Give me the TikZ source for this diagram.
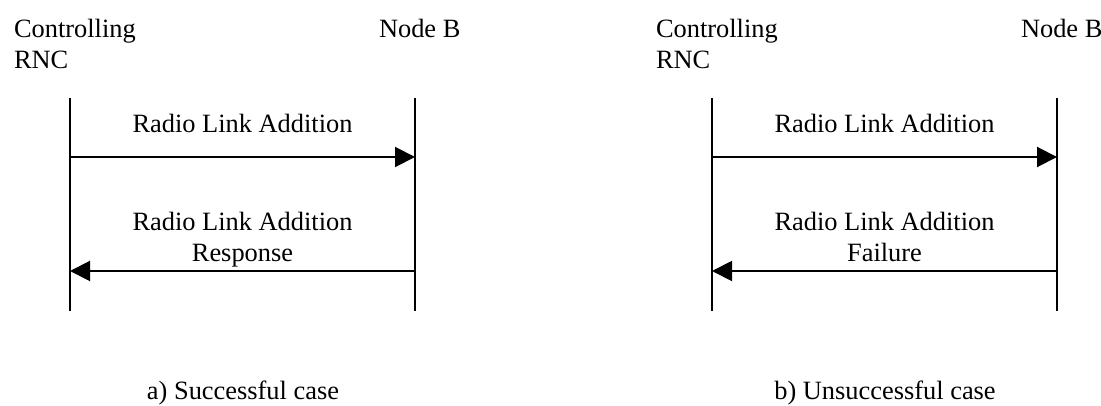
\documentclass[tikz,border=0pt]{standalone}
\usepackage{fontspec}
\setmainfont{Liberation Serif}
\usetikzlibrary{arrows.meta, positioning}

\begin{document}
\begin{tikzpicture}[x=0.5pt, y=-0.5pt, line width=1pt,
                    font=\fontsize{13.2}{15.6}\selectfont,
                    entity/.style= {inner sep=0pt,
                      align=left,
                      anchor=north west},
                    msglabel/.style= {inner sep=0pt,
                      align=center},
                    lifeline/.style= {draw=black},
                    msg/.style= {draw=black,
                      -{Triangle[length=10pt, width=10pt]}}]

  \useasboundingbox (0,0) rectangle (1101,406);

  % a) successful case
  \node[entity] (crncA) at (13,18) {Controlling\\RNC};
  \node[entity] (nodebA) at (378,18) {Node B};
  \coordinate (crncAtop) at (70,98);
  \coordinate (crncAbot) at (70,311);
  \coordinate (nodebAtop) at (415,98);
  \coordinate (nodebAbot) at (415,311);
  \coordinate (reqAfrom) at (70,157);
  \coordinate (reqAto) at (415,157);
  \coordinate (rspAfrom) at (415,271);
  \coordinate (rspAto) at (70,271);
  \node[msglabel, anchor=base] (reqAlabel) at (242.5,133) {Radio Link Addition};
  \node[msglabel, anchor=north] (rspAlabel) at (242.5,211) {Radio Link Addition\\Response};
  \node[msglabel, anchor=base] (capA) at (243,399) {a) Successful case};

  % b) unsuccessful case
  \node[entity] (crncB) at (655,18) {Controlling\\RNC};
  \node[entity] (nodebB) at (1020,18) {Node B};
  \coordinate (crncBtop) at (712,98);
  \coordinate (crncBbot) at (712,311);
  \coordinate (nodebBtop) at (1057,98);
  \coordinate (nodebBbot) at (1057,311);
  \coordinate (reqBfrom) at (712,157);
  \coordinate (reqBto) at (1057,157);
  \coordinate (rspBfrom) at (1057,271);
  \coordinate (rspBto) at (712,271);
  \node[msglabel, anchor=base] (reqBlabel) at (884.5,133) {Radio Link Addition};
  \node[msglabel, anchor=north] (rspBlabel) at (884.5,211) {Radio Link Addition\\Failure};
  \node[msglabel, anchor=base] (capB) at (885,399) {b) Unsuccessful case};

  \path[lifeline]
    (crncAtop) -- (crncAbot)
    (nodebAtop) -- (nodebAbot)
    (crncBtop) -- (crncBbot)
    (nodebBtop) -- (nodebBbot);

  \path[msg] (reqAfrom) -- (reqAto);
  \path[msg] (rspAfrom) -- (rspAto);
  \path[msg] (reqBfrom) -- (reqBto);
  \path[msg] (rspBfrom) -- (rspBto);
\end{tikzpicture}
\end{document}
